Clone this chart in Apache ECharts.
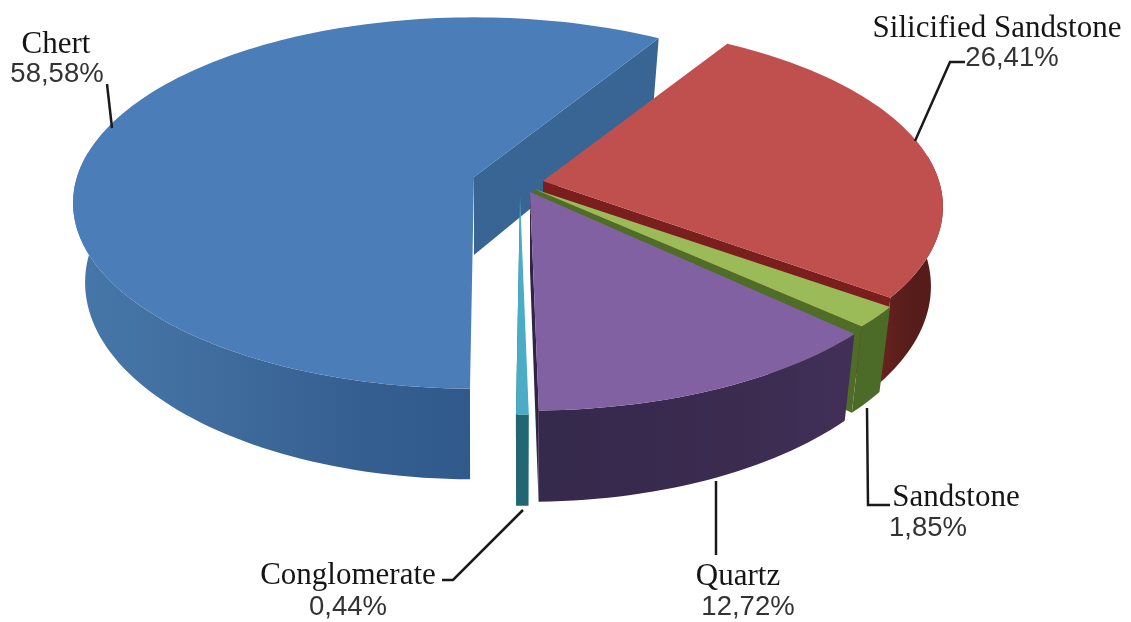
<!DOCTYPE html>
<html>
<head>
<meta charset="utf-8">
<style>html,body{margin:0;padding:0;background:#fff}#c{width:1131px;height:622px}</style>
<script src="https://cdn.jsdelivr.net/npm/echarts@6/dist/echarts.min.js"></script>
</head>
<body>
<div id="c"></div>
<script>
// Data, in drawing order (clockwise from the front of the pie)
const categories = ['Chert', 'Silicified Sandstone', 'Sandstone', 'Quartz', 'Conglomerate'];
const values = [58.58, 26.41, 1.85, 12.72, 0.44];

// Styles
const topColors = ['#4b7db8', '#c0504d', '#9bbb59', '#8161a2', '#4bacc6'];
const faceColors = ['#386594', '#7a1f1e', '#4f6d26', '#2f2346', '#1f6470'];
const wallColors = [
  ['#4676a8', '#3f6c9d', '#355f90', '#2f5a8b'],
  ['#6a2220', '#5c1f1c', '#561c1a', '#561c1a'],
  ['#4c6b28', '#4c6b28', '#4c6b28', '#4c6b28'],
  ['#35294c', '#382a4e', '#3b2c50', '#412f58'],
  ['#216672', '#216672', '#216672', '#216672']
];

// Layout of the exploded slices: apex, horizontal / vertical radius
const sliceLayout = [
  { ax: 474, ay: 177, rx: 397, ry: 182 },
  { ax: 543, ay: 181, rx: 396, ry: 180 },
  { ax: 534, ay: 189, rx: 406, ry: 182 },
  { ax: 530, ay: 192, rx: 402, ry: 188 },
  { ax: 520, ay: 196, rx: 400, ry: 188 }
];
const PERSP = 0.14, DEPTH = 78, SY = 1.06, SX = 0.97;
const START_ANGLE = 90.5; // screen degrees, clockwise: chert begins at the front

const labelLayout = [
  { nx: 56, ny: 45, px: 57, py: 74, line: [[107, 84], [112, 128]] },
  { nx: 997, ny: 29, px: 1012, py: 58, line: [[965, 62], [950, 62], [915, 141]] },
  { nx: 956, ny: 498, px: 928, py: 528, line: [[890, 505], [868, 505], [867, 408]] },
  { nx: 738, ny: 577, px: 748, py: 607, line: [[716, 555], [716, 481]] },
  { nx: 348, ny: 576, px: 348, py: 607, line: [[442, 580], [453, 580], [523, 510]] }
];

const total = values.reduce((a, b) => a + b, 0);
function sliceAngles(i) {
  let s = START_ANGLE;
  for (let k = 0; k < i; k++) s += values[k] / total * 360;
  return [s, s + values[i] / total * 360];
}
function rimPoint(g, deg) {
  const a = deg * Math.PI / 180, c = Math.cos(a), s = Math.sin(a), w = 1 - PERSP * s;
  return [g.ax + g.rx * c / w, g.ay + g.ry * s / w];
}
function drop(g, p) {
  return [g.ax + (p[0] - g.ax) * SX, g.ay + (p[1] - g.ay) * SY + DEPTH];
}
function renderItem(params, api) {
  const i = params.dataIndex, g = sliceLayout[i];
  const [a0, a1] = sliceAngles(i);
  const arc = [], front = [], n = Math.max(4, Math.ceil((a1 - a0) / 1.5));
  for (let k = 0; k <= n; k++) {
    const d = a0 + (a1 - a0) * k / n, p = rimPoint(g, d);
    arc.push(p);
    if (Math.sin(d * Math.PI / 180) > -0.15) front.push(p); // only the near side of the wall shows
  }
  const low = front.map(p => drop(g, p));
  const apex = [g.ax, g.ay];
  const xs = low.map(p => p[0]);
  const w = wallColors[i];
  const grad = new echarts.graphic.LinearGradient(Math.min(...xs), 0, Math.max(...xs), 0, [
    { offset: 0, color: w[0] }, { offset: 0.35, color: w[1] },
    { offset: 0.7, color: w[2] }, { offset: 1, color: w[3] }
  ], true);
  const endP = arc[arc.length - 1];
  const L = labelLayout[i];
  const children = [
    { type: 'polygon', shape: { points: [apex, endP, drop(g, endP), drop(g, apex)] }, style: { fill: faceColors[i] } },
    { type: 'polygon', shape: { points: front.concat(low.slice().reverse()) }, style: { fill: grad } },
    { type: 'polygon', shape: { points: [apex].concat(arc) }, style: { fill: topColors[i] } },
    { type: 'polyline', shape: { points: L.line }, style: { stroke: '#1a1a1a', lineWidth: 2.5, fill: 'none' }, z2: 5 },
    { type: 'text', z2: 6, style: { text: categories[i], x: L.nx, y: L.ny, align: 'center', verticalAlign: 'middle',
        font: '31px "Liberation Serif"', fill: '#151515' } },
    { type: 'text', z2: 6, style: { text: values[i].toFixed(2).replace('.', ',') + '%', x: L.px, y: L.py, align: 'center', verticalAlign: 'middle',
        font: '27.5px "Liberation Sans"', fill: '#333333' } }
  ];
  return { type: 'group', children };
}
const chart = echarts.init(document.getElementById('c'), null, { renderer: 'canvas' });
chart.setOption({
  backgroundColor: '#ffffff',
  animation: false,
  series: [{
    type: 'custom',
    coordinateSystem: 'none',
    renderItem,
    data: values.map((v, i) => ({ name: categories[i], value: [v] })),
    silent: true
  }]
});
</script>
</body>
</html>
